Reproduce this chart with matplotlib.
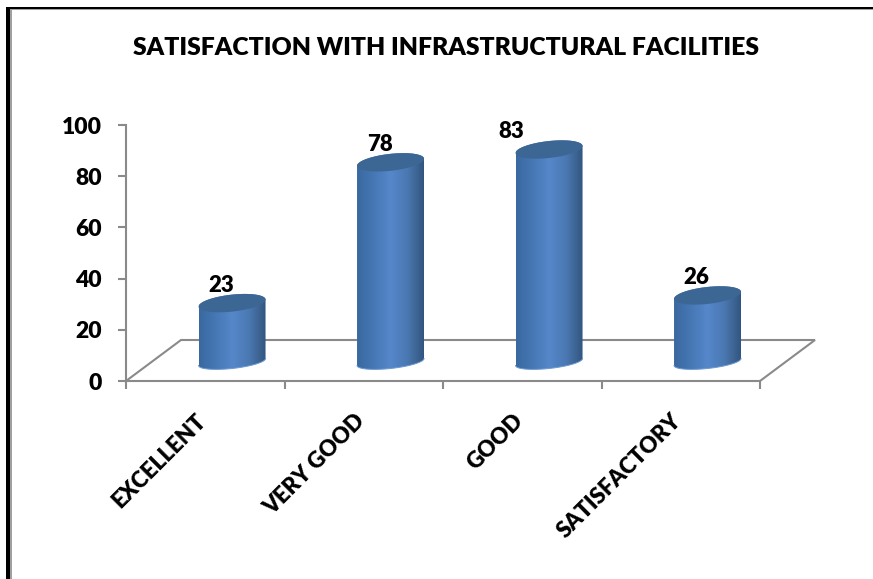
import numpy as np
import matplotlib
matplotlib.use("Agg")
import matplotlib.pyplot as plt
from matplotlib.colors import LinearSegmentedColormap
from matplotlib.patches import PathPatch, Polygon, Rectangle
from matplotlib.path import Path

categories = ["EXCELLENT", "VERY GOOD", "GOOD", "SATISFACTORY"]
values = [23, 78, 83, 26]
yticks = [0, 20, 40, 60, 80, 100]
title = "SATISFACTION WITH INFRASTRUCTURAL FACILITIES"

W, H = 873, 579
GRAY = "#8a8a8a"
plt.rcParams["font.family"] = ["Lato", "DejaVu Sans"]
plt.rcParams["font.weight"] = "heavy"

fig = plt.figure(figsize=(W / 100, H / 100), dpi=100)
# axes box in pixels: x 126-760, y 125-381
ax = fig.add_axes([126 / W, 1 - 381 / H, 634 / W, 256 / H])
ax.set_xlim(0, 4)
ax.set_ylim(0, 100)

px = 4 / 634      # data units for one pixel, x
py = 100 / 256    # same for y

# picture frame, left and top only
fig.add_artist(Rectangle((6 / W, 0), 5.5 / W, 1 - 7 / H, transform=fig.transFigure, color="#a0a0a0", lw=0))
fig.add_artist(Rectangle((6 / W, 1 - 10 / H), 1 - 6 / W, 3 / H, transform=fig.transFigure, color="#a0a0a0", lw=0))
fig.add_artist(Rectangle((6 / W, 0), 4 / W, 1 - 7 / H, transform=fig.transFigure, color="black", lw=0))
fig.add_artist(Rectangle((6 / W, 1 - 9 / H), 1 - 6 / W, 2 / H, transform=fig.transFigure, color="black", lw=0))

# floor of the 3d box
dx, dy = 55 * px, 41 * py
floor_x = [0, dx, 4 + dx, 4]
floor_y = [0, dy, dy, 0]
ax.plot(floor_x, floor_y, color=GRAY, lw=1.5, clip_on=False, zorder=1, solid_joinstyle="miter")

for s in ["top", "right"]:
    ax.spines[s].set_visible(False)
for s in ["left", "bottom"]:
    ax.spines[s].set_color(GRAY)
    ax.spines[s].set_linewidth(1.5)

ax.set_yticks(yticks)
ax.set_xticks(range(5))
ax.set_xticklabels([])
ax.tick_params(axis="both", color=GRAY, width=1.5, length=5.8)
ax.tick_params(axis="y", labelsize=16.5, pad=11.5)

# category labels sit rotated under the middle of each slot
for i, c in enumerate(categories):
    ax.annotate(c, (i + 0.5, 0), xytext=(-7.2, -20.9), textcoords="offset points",
                rotation=45, rotation_mode="anchor", ha="right", va="top",
                fontsize=16, color="black", annotation_clip=False)

fig.text(446 / W, 1 - 48 / H, title, ha="center", va="center", fontsize=17.8, color="black")

body_cmap = LinearSegmentedColormap.from_list("body", [
    (0.0, "#3a689f"), (0.25, "#4678b5"), (0.5, "#5587ca"),
    (0.75, "#4a78b2"), (0.9, "#3d6492"), (1.0, "#315580")])
grad = np.linspace(0, 1, 256).reshape(1, -1)

half_w = 33.5 * px
shear = 3.5 * py
semi_top = 8.5 * py
semi_foot = 6.5 * py
base = 19 * py       # bottom ellipse centre above the axis line
offset = 0.169       # cylinders stand back from the slot centre
t = np.linspace(0, 2 * np.pi, 121)
tb = np.linspace(np.pi, 2 * np.pi, 60)
ta = np.linspace(0, np.pi, 60)

for i, v in enumerate(values):
    cx = i + 0.5 + offset
    top = base + v
    xt = cx + half_w * np.cos(t)
    yt = top + shear * np.cos(t) + semi_top * np.sin(t)
    # foot: lower half of bottom ellipse left to right, then back along the top ellipse
    xb = cx + half_w * np.cos(tb)
    yb = base + shear * np.cos(tb) + semi_foot * np.sin(tb)
    xa = cx + half_w * np.cos(ta)
    ya = top + shear * np.cos(ta) + semi_top * np.sin(ta)
    verts = np.column_stack([np.r_[xb, xa], np.r_[yb, ya]])
    clip = PathPatch(Path(np.vstack([verts, verts[:1]])), transform=ax.transData, fc="none", ec="none")
    ax.add_patch(clip)
    im = ax.imshow(grad, extent=[cx - half_w, cx + half_w, base - semi_foot - shear, top + semi_top + shear],
                   cmap=body_cmap, aspect="auto", zorder=3, clip_on=True, interpolation="bilinear")
    im.set_clip_path(clip)
    ax.add_patch(Polygon(np.column_stack([xt, yt]), closed=True, fc="#3c6795", ec="none", zorder=4, clip_on=False))
    # faint light rim along the foot
    ax.plot(xb, yb, color="#6d9ad2", lw=0.7, zorder=4, clip_on=False)

    # label 83 was moved to the left of its column in the original
    lx = cx - (38 if v == 83 else 11) * px
    ax.text(lx, top + 18 * py, str(v), ha="center", va="center", fontsize=16, color="black", clip_on=False, zorder=5)

ax.set_xlim(0, 4)
ax.set_ylim(0, 100)

fig.savefig("out.png", dpi=100)
